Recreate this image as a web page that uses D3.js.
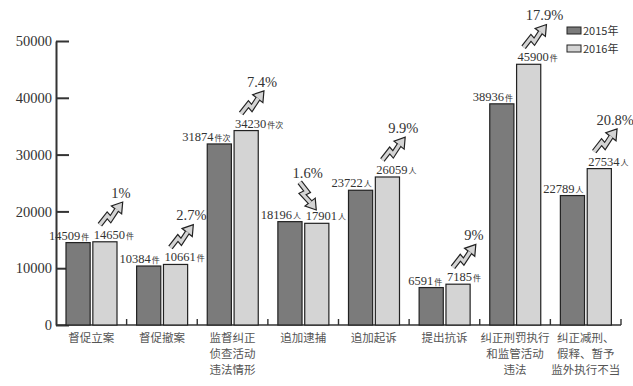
<!DOCTYPE html>
<html>
<head>
<meta charset="utf-8">
<script src="https://cdn.jsdelivr.net/npm/d3@7"></script>
<style>
  body { margin: 0; background: #fff; }
</style>
</head>
<body>
<div id="chart"></div>
<script>
// categories (one entry per line of the label)
var categories = [
  ["督促立案"],
  ["督促撤案"],
  ["监督纠正", "侦查活动", "违法情形"],
  ["追加逮捕"],
  ["追加起诉"],
  ["提出抗诉"],
  ["纠正刑罚执行", "和监管活动", "违法"],
  ["纠正减刑、", "假释、暂予", "监外执行不当"]
];
var years = ["2015年", "2016年"];
var values2015 = [14509, 10384, 31874, 18196, 23722, 6591, 38936, 22789];
var values2016 = [14650, 10661, 34230, 17901, 26059, 7185, 45900, 27534];
var units = ["件", "件", "件次", "人", "人", "件", "件", "人"];
var changes = ["1%", "2.7%", "7.4%", "1.6%", "9.9%", "9%", "17.9%", "20.8%"];
var trend = ["up", "up", "up", "down", "up", "up", "up", "up"];
var yTicks = [0, 10000, 20000, 30000, 40000, 50000];

var colors = ["#7b7b7b", "#d4d4d4"];
var serif = "'Liberation Serif', 'Times New Roman', serif";
var cjk = "'Noto Sans CJK SC', sans-serif";

var width = 633, height = 386;

var svg = d3.select("#chart")
  .append("svg")
  .attr("width", width)
  .attr("height", height);

svg.append("rect").attr("width", width).attr("height", height).attr("fill", "#fff");

var x0 = d3.scaleBand()
  .domain(d3.range(categories.length))
  .range([56, 621]);

var x1 = d3.scaleBand()
  .domain(years)
  .range([10, 61])
  .paddingInner(0.1);

var y = d3.scaleLinear()
  .domain([0, 50000])
  .range([325, 41]);

// Y axis, ticks pointing inward
var yAxis = svg.append("g")
  .attr("transform", "translate(56,0)")
  .call(d3.axisLeft(y).tickValues(yTicks).tickSizeInner(-13).tickSizeOuter(0).tickPadding(4).tickFormat(d3.format("d")));
yAxis.select(".domain").attr("stroke", "#333").attr("stroke-width", 2);
yAxis.selectAll(".tick line").attr("stroke", "#333").attr("stroke-width", 2);
yAxis.selectAll(".tick text")
  .attr("fill", "#333")
  .style("font-family", serif)
  .style("font-size", "14.5px");

// X baseline
svg.append("line")
  .attr("x1", 56).attr("x2", 621)
  .attr("y1", y(0)).attr("y2", y(0))
  .attr("stroke", "#333").attr("stroke-width", 1.6);

// small separator ticks
svg.selectAll(".sep")
  .data(d3.range(categories.length))
  .enter()
  .append("line")
  .attr("class", "sep")
  .attr("x1", function(i) { return x0(i) + x0.bandwidth(); })
  .attr("x2", function(i) { return x0(i) + x0.bandwidth(); })
  .attr("y1", y(0))
  .attr("y2", y(0) - 6)
  .attr("stroke", "#333")
  .attr("stroke-width", 1.4);

// category labels
var catLabels = svg.selectAll(".cat")
  .data(categories)
  .enter()
  .append("text")
  .attr("class", "cat")
  .attr("text-anchor", "middle")
  .attr("fill", "#555")
  .style("font-family", cjk)
  .style("font-size", "11.5px");

catLabels.selectAll("tspan")
  .data(function(d, i) { return d.map(function(t) { return { t: t, i: i }; }); })
  .enter()
  .append("tspan")
  .attr("x", function(d) { return x0(d.i) + x0.bandwidth() / 2; })
  .attr("y", function(d, j) { return 342 + j * 16; })
  .text(function(d) { return d.t; });

// bars
var groups = svg.selectAll(".grp")
  .data(d3.range(categories.length))
  .enter()
  .append("g")
  .attr("class", "grp")
  .attr("transform", function(i) { return "translate(" + x0(i) + ",0)"; });

groups.selectAll("rect")
  .data(function(i) { return [values2015[i], values2016[i]].map(function(v, k) { return { v: v, k: k, i: i }; }); })
  .enter()
  .append("rect")
  .attr("x", function(d) { return x1(years[d.k]); })
  .attr("y", function(d) { return y(d.v); })
  .attr("width", x1.bandwidth())
  .attr("height", function(d) { return y(0) - y(d.v); })
  .attr("fill", function(d) { return colors[d.k]; })
  .attr("stroke", "#222")
  .attr("stroke-width", 1.2);

// value labels
var valLabels = groups.selectAll(".val")
  .data(function(i) { return [values2015[i], values2016[i]].map(function(v, k) { return { v: v, k: k, i: i }; }); })
  .enter()
  .append("text")
  .attr("class", "val")
  .attr("x", function(d) {
    return d.k === 0 ? x1(years[0]) + x1.bandwidth() - 1 : x1(years[1]) + 1;
  })
  .attr("y", function(d) { return y(d.v) - 3; })
  .attr("text-anchor", function(d) { return d.k === 0 ? "end" : "start"; })
  .attr("fill", "#333");

valLabels.append("tspan")
  .style("font-family", serif)
  .style("font-size", "12.5px")
  .text(function(d) { return d.v; });

valLabels.append("tspan")
  .attr("dx", 1)
  .style("font-family", cjk)
  .style("font-size", "8px")
  .text(function(d) { return units[d.i]; });

// lightning arrows
function drawArrow(g, ax, ay, angle) {
  var a = g.append("g")
    .attr("transform", "translate(" + ax + "," + ay + ") rotate(" + angle + ")");
  var pts = [[0, 0], [0, -12], [5, -11], [4, -23]];
  a.append("path").attr("d", d3.line()(pts))
    .attr("fill", "none").attr("stroke", "#222").attr("stroke-width", 5.6)
    .attr("stroke-linejoin", "miter");
  a.append("path").attr("d", "M-2.5,-22L10.5,-22L4,-32Z")
    .attr("fill", "#d4d4d4").attr("stroke", "#222").attr("stroke-width", 1.2)
    .attr("stroke-linejoin", "miter");
  a.append("path").attr("d", d3.line()([[0, 0.3], [0, -12], [5, -11], [4, -22.6]]))
    .attr("fill", "none").attr("stroke", "#d4d4d4").attr("stroke-width", 3.3)
    .attr("stroke-linejoin", "miter");
}

groups.each(function(i) {
  var g = d3.select(this);
  var left = x1(years[1]);
  var top = y(values2016[i]);
  if (trend[i] === "up") {
    drawArrow(g, left + 7, top - 17, 38);
    g.append("text")
      .attr("x", left + 28)
      .attr("y", top - 44)
      .attr("text-anchor", "middle")
      .attr("fill", "#333")
      .style("font-family", serif)
      .style("font-size", "14.5px")
      .text(changes[i]);
  } else {
    drawArrow(g, left - 5, top - 41, 142);
    g.append("text")
      .attr("x", left + 3)
      .attr("y", top - 45)
      .attr("text-anchor", "middle")
      .attr("fill", "#333")
      .style("font-family", serif)
      .style("font-size", "14.5px")
      .text(changes[i]);
  }
});

// legend
var legend = svg.selectAll(".leg")
  .data(years)
  .enter()
  .append("g")
  .attr("class", "leg")
  .attr("transform", function(d, k) { return "translate(567," + (27 + k * 18) + ")"; });

legend.append("rect")
  .attr("width", 14)
  .attr("height", 7)
  .attr("fill", function(d, k) { return colors[k]; })
  .attr("stroke", "#222")
  .attr("stroke-width", 1);

legend.append("text")
  .attr("x", 16)
  .attr("y", 4)
  .attr("dy", "0.35em")
  .attr("fill", "#333")
  .style("font-family", cjk)
  .style("font-size", "11px")
  .text(function(d) { return d; });
</script>
</body>
</html>
